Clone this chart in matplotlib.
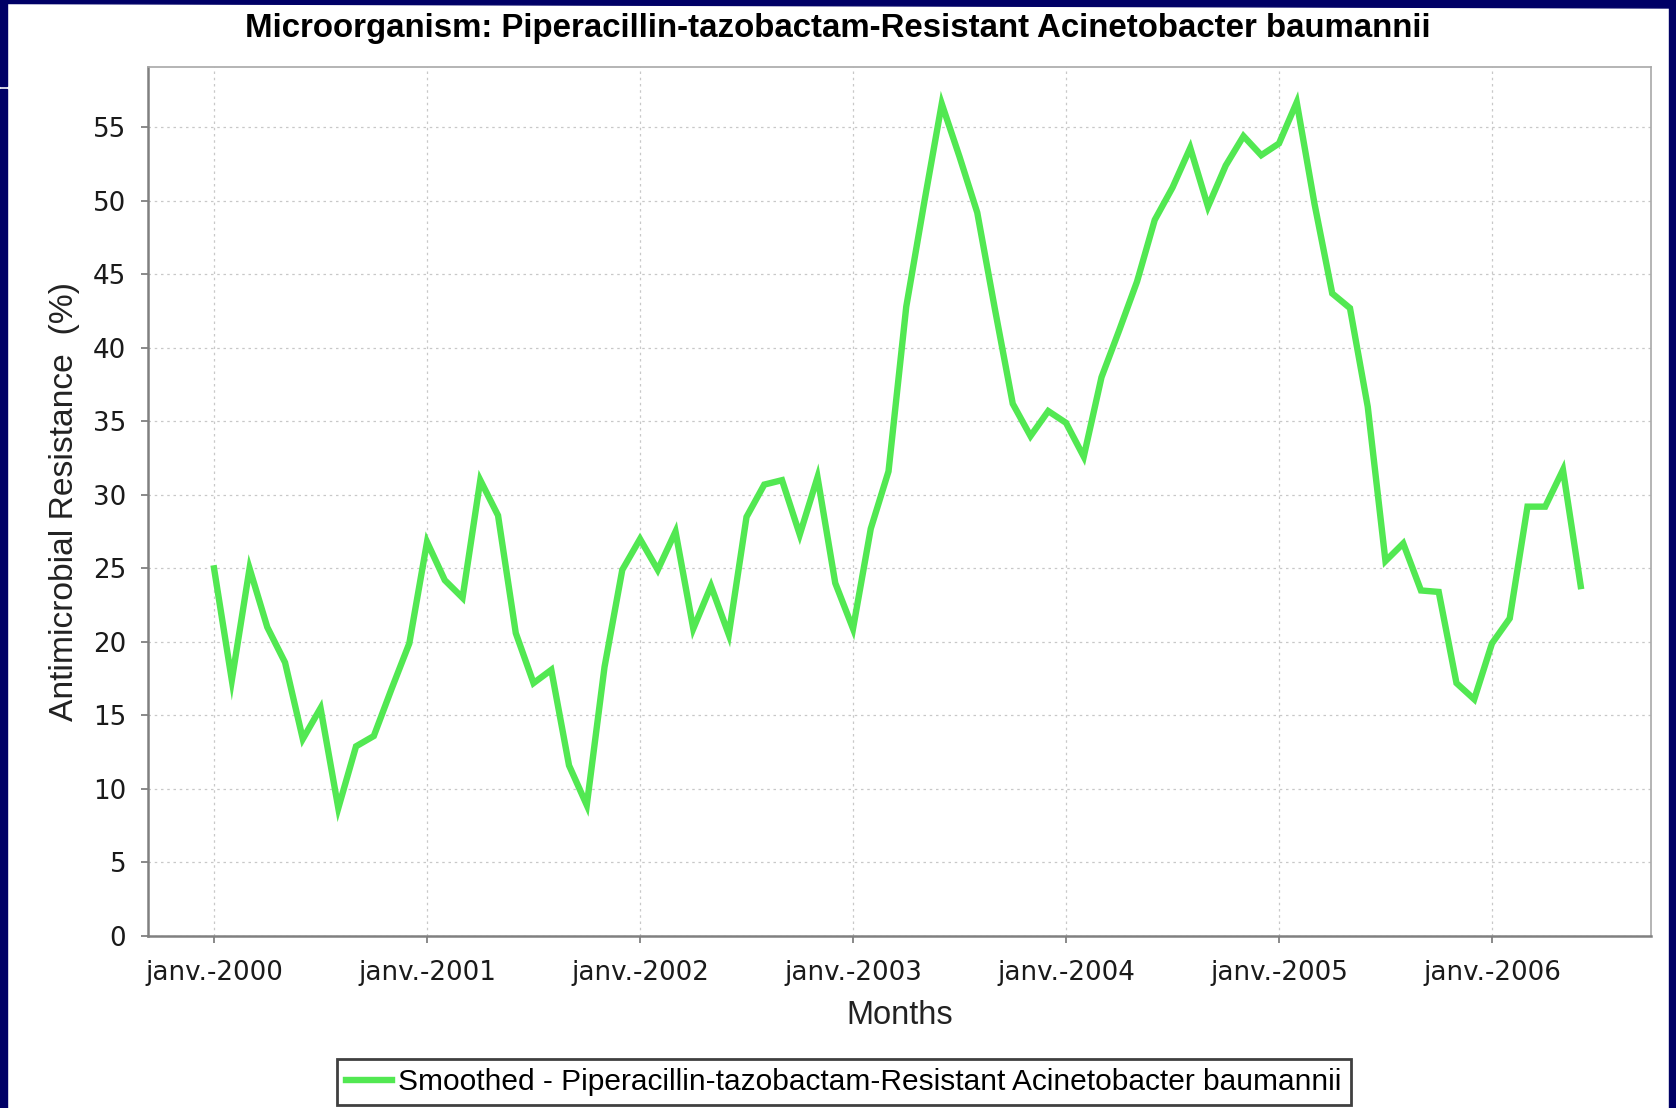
import numpy as np
import matplotlib
matplotlib.use("Agg")
import matplotlib.pyplot as plt
from matplotlib import font_manager

# monthly smoothed resistance (%), janv. 2000 -> juin 2006
resistance = [
    25.0, 17.4, 25.0, 21.0, 18.6, 13.4, 15.5, 8.7, 12.9, 13.6, 16.8, 19.9,
    26.8, 24.2, 23.0, 31.0, 28.6, 20.6, 17.2, 18.1, 11.6, 8.9, 18.3, 24.9,
    27.0, 24.9, 27.5, 20.9, 23.8, 20.5, 28.5, 30.7, 31.0, 27.3, 31.2, 24.0,
    20.9, 27.7, 31.6, 42.8, 49.8, 56.6, 53.0, 49.2, 42.6, 36.2, 34.0, 35.7,
    34.9, 32.6, 38.0, 41.2, 44.5, 48.7, 50.9, 53.6, 49.6, 52.4, 54.4, 53.1,
    53.9, 56.7, 49.8, 43.7, 42.7, 36.0, 25.5, 26.7, 23.5, 23.4, 17.2, 16.1,
    19.9, 21.6, 29.2, 29.2, 31.7, 23.8,
]
months = np.arange(len(resistance))

year_ticks = [0, 12, 24, 36, 48, 60, 72]
year_labels = ["janv.-2000", "janv.-2001", "janv.-2002", "janv.-2003",
               "janv.-2004", "janv.-2005", "janv.-2006"]
y_ticks = list(range(0, 60, 5))

title = "Microorganism: Piperacillin-tazobactam-Resistant Acinetobacter baumannii"
series_name = "Smoothed - Piperacillin-tazobactam-Resistant Acinetobacter baumannii"

names = {f.name for f in font_manager.fontManager.ttflist}
sans = "Liberation Sans" if "Liberation Sans" in names else "DejaVu Sans"

W, H = 1676, 1108
fig = plt.figure(figsize=(W / 100, H / 100), dpi=100)
fig.patch.set_facecolor("white")

# navy slide frame
navy = "#000066"
fig.patches.append(plt.Polygon([(0, 1), (1, 1), (1, 1 - 8 / H), (0, 1 - 3.5 / H)],
                               closed=True, color=navy, transform=fig.transFigure))
fig.patches.append(plt.Rectangle((0, 0), 7 / W, 1 - 89 / H, color=navy,
                                 transform=fig.transFigure))
fig.patches.append(plt.Rectangle((0, 1 - 86 / H), 7 / W, 86 / H, color=navy,
                                 transform=fig.transFigure))
fig.patches.append(plt.Rectangle((1 - 7 / W, 0), 7 / W, 1, color=navy,
                                 transform=fig.transFigure))

left, right, top, bottom = 147.5, 1651, 67, 936
ax = fig.add_axes([left / W, 1 - bottom / H, (right - left) / W, (bottom - top) / H])

line, = ax.plot(months, resistance, color="#52E852", linewidth=4.6,
                solid_joinstyle="miter", label=series_name)

ax.set_xlim(-3.75, 80.96)
ax.set_ylim(0, 59.1)
ax.set_xticks(year_ticks)
ax.set_xticklabels(year_labels)
ax.set_yticks(y_ticks)

ax.grid(True, color="#c8c8c8", linestyle=(0, (2, 3)), linewidth=0.9)
ax.set_axisbelow(True)

for side in ["top", "right"]:
    ax.spines[side].set_color("#a8a8a8")
    ax.spines[side].set_linewidth(1.2)
for side in ["left", "bottom"]:
    ax.spines[side].set_color("#808080")
    ax.spines[side].set_linewidth(1.8)

ax.tick_params(axis="both", labelsize=18.8, length=4.8, width=1.3, color="#808080",
               labelcolor="#1a1a1a")
ax.tick_params(axis="x", pad=12.5)
ax.tick_params(axis="y", pad=10.5)
for lab in ax.get_xticklabels() + ax.get_yticklabels():
    lab.set_fontfamily("DejaVu Sans")

fig.text(0.5, 1 - 28 / H, title, ha="center", va="center", fontsize=23.8,
         fontweight="bold", family=sans, color="black")
fig.text(64 / W, 1 - 501.5 / H, "Antimicrobial Resistance  (%)", rotation=90,
         ha="center", va="center", fontsize=24.2, family=sans, color="#222222")
fig.text((left + right) / 2 / W, 1 - 1015.5 / H, "Months", ha="center",
         va="center", fontsize=23.5, family=sans, color="#222222")

leg = ax.legend(handles=[line], loc="upper left",
                bbox_to_anchor=(337 / W, 1 - 1059 / H), bbox_transform=fig.transFigure,
                prop={"family": sans, "size": 21.5}, fancybox=False, framealpha=1,
                borderpad=0.3, handlelength=1.55, handletextpad=0.2,
                borderaxespad=0)
leg.get_frame().set_edgecolor("#404040")
leg.get_frame().set_linewidth(2)

fig.savefig("out.png", dpi=100, facecolor="white")
